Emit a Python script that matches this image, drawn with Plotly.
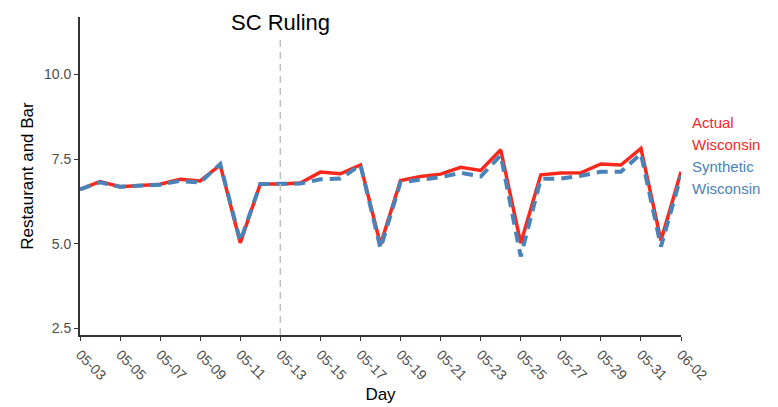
import plotly.graph_objects as go

days = ["2020-05-%02d" % d for d in range(3, 32)] + ["2020-06-01", "2020-06-02"]
actual = [6.61, 6.84, 6.69, 6.72, 6.76, 6.91, 6.86, 7.33, 5.03, 6.77,
          6.77, 6.80, 7.12, 7.07, 7.33, 4.98, 6.87, 6.99, 7.06, 7.26,
          7.17, 7.78, 5.02, 7.04, 7.09, 7.10, 7.36, 7.33, 7.82, 5.10, 7.13]
synthetic = [6.61, 6.82, 6.69, 6.72, 6.75, 6.86, 6.81, 7.36, 5.08, 6.77,
             6.77, 6.78, 6.91, 6.93, 7.33, 4.87, 6.82, 6.90, 6.97, 7.10,
             6.99, 7.62, 4.63, 6.92, 6.93, 7.01, 7.13, 7.13, 7.66, 4.92, 7.01]
ruling_day = "2020-05-13"
red = "#F8291C"
blue = "#4A83B8"

# page has an 8px body margin; figure is sized so the plot area lands at page px 80..681, 17..335
W, H = 770, 399
L, R, T, B = 72, 97, 9, 72
pw, ph = W - L - R, H - T - B


def px_x(x):
    return (x - 8 - L) / pw


def px_y(y):
    return (H - (y - 8) - B) / ph


fig = go.Figure()
fig.add_trace(go.Scatter(x=days, y=actual, mode="lines", name="Actual Wisconsin",
                         line=dict(color=red, width=3.5)))
fig.add_trace(go.Scatter(x=days, y=synthetic, mode="lines", name="Synthetic Wisconsin",
                         line=dict(color=blue, width=4, dash="11px,7px")))

fig.add_shape(type="line", xref="x", yref="paper", x0=ruling_day, x1=ruling_day,
              y0=0, y1=px_y(35), line=dict(color="#BEBEBE", width=1.5, dash="7px,5px"))
fig.add_annotation(x=ruling_day, y=px_y(9), xref="x", yref="paper", text="SC Ruling",
                   showarrow=False, yanchor="top", borderpad=0,
                   font=dict(family="Liberation Sans, Arial", size=22, color="black"))

for txt, yy, col in [("Actual", 122, red), ("Wisconsin", 144, red),
                     ("Synthetic", 166, blue), ("Wisconsin", 188, blue)]:
    fig.add_annotation(x=px_x(691), y=px_y(yy), xref="paper", yref="paper",
                       text=txt, showarrow=False, xanchor="left", yanchor="middle",
                       xshift=-1,
                       font=dict(family="Liberation Sans, Arial", size=15, color=col))

fig.update_layout(
    width=W, height=H,
    margin=dict(l=L, r=R, t=T, b=B, autoexpand=False),
    paper_bgcolor="white", plot_bgcolor="white",
    showlegend=False,
    font=dict(family="Liberation Sans, Arial", color="black"),
    xaxis=dict(type="date", range=["2020-05-03", "2020-06-02"], automargin=False,
               tick0="2020-05-03", dtick=2 * 86400000, tickformat="%m-%d",
               tickangle=45, ticks="outside", ticklen=4, tickcolor="#333333",
               showline=True, linecolor="#333333", linewidth=1.8,
               showgrid=False, zeroline=False,
               tickfont=dict(size=14, color="#4D4D4D"),
               title=dict(text="Day", font=dict(size=17, color="black"), standoff=6)),
    yaxis=dict(range=[2.31, 11.7], tickvals=[2.5, 5.0, 7.5, 10.0], automargin=False,
               ticktext=["2.5", "5.0", "7.5", "10.0"],
               ticks="outside", ticklen=4, tickcolor="#333333",
               showline=True, linecolor="#333333", linewidth=1.8,
               showgrid=False, zeroline=False,
               tickfont=dict(size=14, color="#4D4D4D"),
               title=dict(text="Restaurant and Bar", font=dict(size=17, color="black"), standoff=6)),
)

fig.write_html("out.html")
